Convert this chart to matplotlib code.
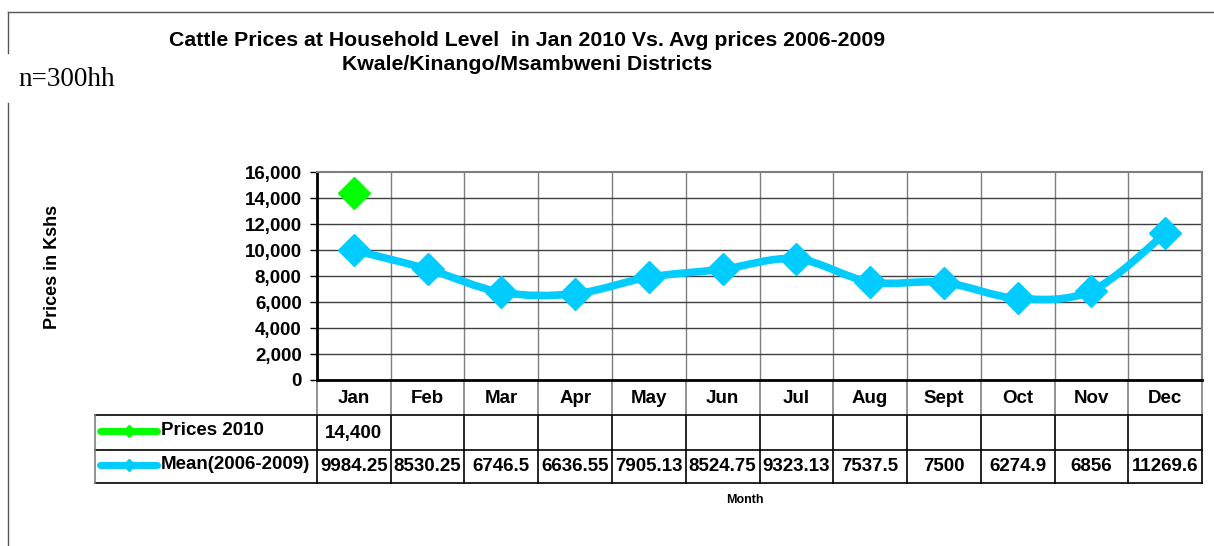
import numpy as np
import matplotlib
matplotlib.use("Agg")
import matplotlib.pyplot as plt
from matplotlib.path import Path
from matplotlib.patches import PathPatch
from matplotlib.lines import Line2D

plt.rcParams['font.family'] = ['Liberation Sans', 'DejaVu Sans']

months = ["Jan", "Feb", "Mar", "Apr", "May", "Jun", "Jul", "Aug", "Sept", "Oct", "Nov", "Dec"]
mean_0609 = [9984.25, 8530.25, 6746.5, 6636.55, 7905.13, 8524.75, 9323.13, 7537.5, 7500, 6274.9, 6856, 11269.6]
mean_labels = ["9984.25", "8530.25", "6746.5", "6636.55", "7905.13", "8524.75", "9323.13", "7537.5", "7500", "6274.9", "6856", "11269.6"]
prices_2010 = [14400]
prices_labels = ["14,400"]
yticks = [0, 2000, 4000, 6000, 8000, 10000, 12000, 14000, 16000]

GREEN = "#00ff00"
CYAN = "#00ccff"
GRID = "#7f7f7f"
FS = 13.5

W, H = 1214, 546
fig = plt.figure(figsize=(W / 100, H / 100), dpi=100)
ax = fig.add_axes([317 / W, 1 - 380 / H, 885 / W, 208 / H])

x = np.arange(len(months))

# smoothed line like excel (catmull-rom -> bezier)
pts = np.column_stack([x, mean_0609])
verts = [tuple(pts[0])]
codes = [Path.MOVETO]
n = len(pts)
for i in range(n - 1):
    p0 = pts[max(i - 1, 0)]
    p1 = pts[i]
    p2 = pts[i + 1]
    p3 = pts[min(i + 2, n - 1)]
    c1 = p1 + (p2 - p0) / 6
    c2 = p2 - (p3 - p1) / 6
    verts += [tuple(c1), tuple(c2), tuple(p2)]
    codes += [Path.CURVE4] * 3
ax.add_patch(PathPatch(Path(verts, codes), fill=False, edgecolor=CYAN, lw=5.5,
                       capstyle='round', joinstyle='round', zorder=3))
ax.plot(x, mean_0609, ls='none', marker='D', ms=16, color=CYAN, zorder=4)
ax.plot(x[:len(prices_2010)], prices_2010, ls='none', marker='D', ms=16, color=GREEN, zorder=4)

ax.set_xlim(-0.5, 11.5)
ax.set_ylim(0, 16000)
ax.set_yticks(yticks)
ax.set_yticklabels([f"{v:,}" for v in yticks], fontsize=FS, fontweight='bold')
ax.tick_params(axis='y', length=5, width=1, color='black', pad=6)
ax.set_xticks([])
for xb in np.arange(0.5, 11.5, 1):
    ax.axvline(xb, color=GRID, lw=1, zorder=1)
for yv in yticks[1:-1]:
    ax.axhline(yv, color='#404040', lw=1, zorder=1)
for s in ['top', 'right']:
    ax.spines[s].set_color(GRID)
    ax.spines[s].set_linewidth(1.5)
ax.spines['left'].set_color('black')
ax.spines['left'].set_linewidth(2)
ax.spines['bottom'].set_color('black')
ax.spines['bottom'].set_linewidth(2)

ax.set_ylabel("Prices in Kshs", fontsize=13, fontweight='bold', labelpad=0)
ax.yaxis.set_label_coords(-0.299, 0.545)
ax.yaxis.label.set_va('center')

# data table below the axes
tr = ax.get_xaxis_transform()
r0, r1, r2, r3 = 0, -0.168, -0.337, -0.495
xl = -3.51


def seg(xs, ys, color, lw=1.2):
    ax.add_line(Line2D(xs, ys, transform=tr, color=color, lw=lw, clip_on=False))


for yy in (r1, r2, r3):
    seg([xl, 11.5], [yy, yy], 'black')
seg([xl, xl], [r1, r3], GRID)
for xb in np.arange(-0.5, 12, 1):
    seg([xb, xb], [r0, r1], GRID)
    seg([xb, xb], [r1, r3], 'black')

for i, m in enumerate(months):
    ax.text(i, -0.087, m, transform=tr, ha='center', va='center', fontsize=FS, fontweight='bold')
for i, t in enumerate(prices_labels):
    ax.text(i, -0.255, t, transform=tr, ha='center', va='center', fontsize=FS, fontweight='bold')
for i, t in enumerate(mean_labels):
    ax.text(i, -0.418, t, transform=tr, ha='center', va='center', fontsize=FS, fontweight='bold')

for yy, col, lab in [(-0.255, GREEN, "Prices 2010"), (-0.418, CYAN, "Mean(2006-2009)")]:
    ax.add_line(Line2D([-3.44, -2.67], [yy + 0.01, yy + 0.01], transform=tr, color=col, lw=5,
                       solid_capstyle='round', clip_on=False))
    ax.add_line(Line2D([-3.055], [yy + 0.01], transform=tr, color=col, marker='D', ms=6,
                       clip_on=False))
    ax.text(-2.62, yy + 0.01, lab, transform=tr, ha='left', va='center', fontsize=FS,
            fontweight='bold')

fig.text(745 / W, 1 - 500 / H, "Month", ha='center', va='center', fontsize=9, fontweight='bold')

# titles
fig.text(527 / W, 1 - 41 / H, "Cattle Prices at Household Level  in Jan 2010 Vs. Avg prices 2006-2009",
         ha='center', va='center', fontsize=15.3, fontweight='bold')
fig.text(527 / W, 1 - 64 / H, "Kwale/Kinango/Msambweni Districts",
         ha='center', va='center', fontsize=15.3, fontweight='bold')
fig.text(18 / W, 1 - 80 / H, "n=300hh", ha='left', va='center', fontsize=19.5,
         family='Liberation Serif')

# outer frame pieces
fig.add_artist(Line2D([8 / W, 1], [1 - 12 / H, 1 - 12 / H], transform=fig.transFigure, color='#555555', lw=1))
fig.add_artist(Line2D([8 / W, 8 / W], [1 - 12 / H, 1 - 53 / H], transform=fig.transFigure, color='#555555', lw=1))
fig.add_artist(Line2D([8 / W, 8 / W], [1 - 103 / H, 0], transform=fig.transFigure, color='#555555', lw=1))

fig.savefig("out.png", dpi=100)
